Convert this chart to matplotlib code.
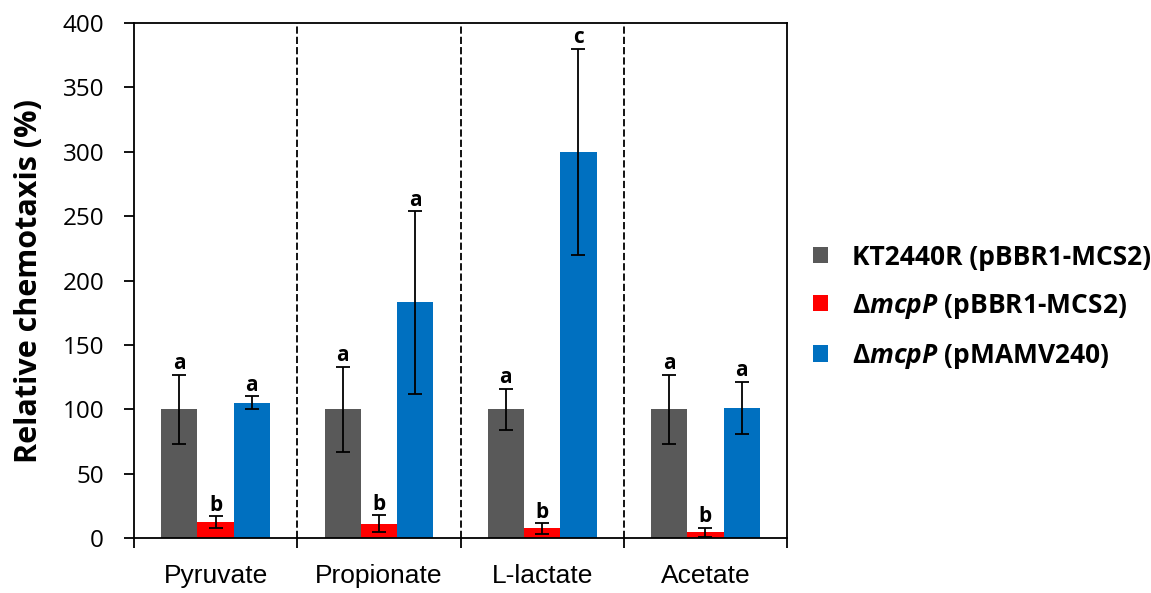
import matplotlib as mpl
import matplotlib.pyplot as plt
import numpy as np

mpl.rcParams['font.family'] = ['Open Sans', 'DejaVu Sans']
mpl.rcParams['mathtext.fontset'] = 'custom'
mpl.rcParams['mathtext.it'] = 'Open Sans:italic:bold'
mpl.rcParams['mathtext.rm'] = 'Open Sans:bold'

substrates = ['Pyruvate', 'Propionate', 'L-lactate', 'Acetate']
series_labels = ['KT2440R (pBBR1-MCS2)',
                 r'Δ$\it{mcpP}$ (pBBR1-MCS2)',
                 r'Δ$\it{mcpP}$ (pMAMV240)']
colors = ['#595959', '#FF0000', '#0070C0']

wt_vals = [100, 100, 100, 100]
wt_err = [27, 33, 16, 27]
mut_vals = [12.5, 11, 7.5, 4.5]
mut_err = [4.5, 6.5, 4, 3.5]
comp_vals = [105, 183, 300, 101]
comp_err = [5, 71, 80, 20.5]

letters = [['a', 'b', 'a'],
           ['a', 'b', 'a'],
           ['a', 'b', 'c'],
           ['a', 'b', 'a']]

values = [wt_vals, mut_vals, comp_vals]
errors = [wt_err, mut_err, comp_err]

fig = plt.figure(figsize=(11.51, 5.93), dpi=100)
ax = fig.add_axes([0.1164, 0.0927, 0.5674, 0.8685])

x = np.arange(len(substrates))
w = 0.222
offsets = [-w, 0, w]
for i in range(3):
    ax.bar(x + offsets[i], values[i], width=w, color=colors[i], label=series_labels[i],
           yerr=errors[i], capsize=4.7,
           error_kw=dict(ecolor='black', elinewidth=1.3, capthick=1.3))
    for j in range(len(substrates)):
        top = values[i][j] + errors[i][j]
        ax.text(x[j] + offsets[i], top + 0.3, letters[j][i], ha='center', va='bottom',
                fontsize=15, fontweight='bold')

for b in [0.5, 1.5, 2.5]:
    ax.axvline(b, color='black', linestyle=(0, (4, 1.7)), linewidth=1.3)

ax.set_xlim(-0.5, 3.5)
ax.set_ylim(0, 400)
ax.set_yticks(range(0, 401, 50))
ax.set_xticks([-0.5, 0.5, 1.5, 2.5, 3.5])
ax.set_xticklabels([])
ax.set_xticks(x, minor=True)
ax.set_xticklabels(substrates, minor=True, fontsize=19, family='Liberation Sans')
ax.tick_params(axis='x', which='minor', length=0, pad=19)
ax.tick_params(axis='x', which='major', length=7.5, width=1.3, direction='out')
ax.tick_params(axis='y', length=7.5, width=1.3, labelsize=17.5, pad=14)
for s in ax.spines.values():
    s.set_linewidth(1.3)
ax.set_ylabel('Relative chemotaxis (%)', fontsize=22, fontweight='bold', labelpad=13)

fig.legend(loc='center left', bbox_to_anchor=(0.686, 0.482), frameon=False,
           prop={'size': 19, 'weight': 'bold'}, handlelength=0.57, handleheight=0.57,
           labelspacing=0.8, handletextpad=0.9, borderpad=0.4)

fig.savefig('out.png', dpi=100)
